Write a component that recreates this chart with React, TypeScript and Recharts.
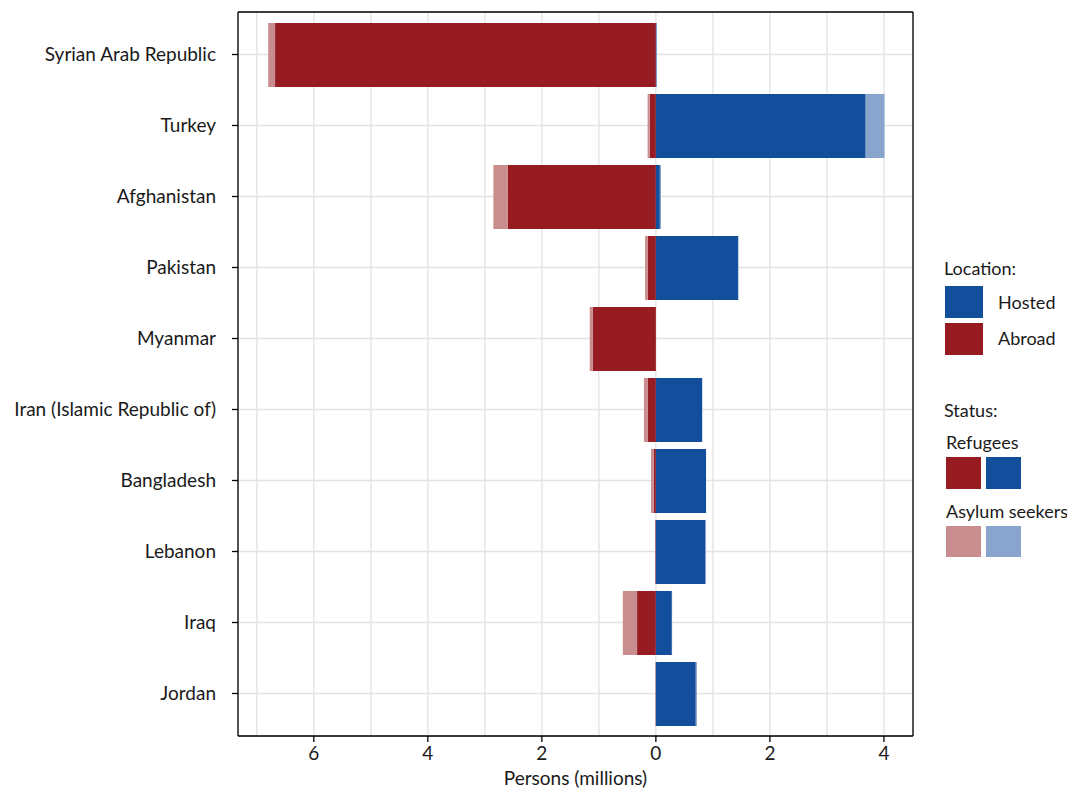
import React from "react";
import {
  BarChart,
  Bar,
  XAxis,
  YAxis,
  CartesianGrid,
} from "recharts";

const countries = [
  "Syrian Arab Republic",
  "Turkey",
  "Afghanistan",
  "Pakistan",
  "Myanmar",
  "Iran (Islamic Republic of)",
  "Bangladesh",
  "Lebanon",
  "Iraq",
  "Jordan",
];
const hostedRefugees = [0.012, 3.68, 0.07, 1.44, 0, 0.81, 0.88, 0.87, 0.28, 0.7];
const hostedAsylum = [0.005, 0.33, 0.02, 0.01, 0, 0.005, 0.0, 0.01, 0.005, 0.02];
const abroadRefugees = [6.68, 0.11, 2.6, 0.14, 1.11, 0.14, 0.035, 0.01, 0.33, 0.005];
const abroadAsylum = [0.12, 0.035, 0.25, 0.05, 0.05, 0.07, 0.05, 0.002, 0.25, 0.002];
const xTicks = [-7, -6, -5, -4, -3, -2, -1, 0, 1, 2, 3, 4];
const labelledTicks = [-6, -4, -2, 0, 2, 4];

const COL_AB_REF = "#961c21";
const COL_AB_ASY = "#c98c8f";
const COL_HO_REF = "#134e9c";
const COL_HO_ASY = "#89a5cd";
const FONT = "Lato, 'Open Sans', sans-serif";
const TEXT = "#1a1a1a";
const FS = 19;
const LEG_FS = 18;

const data = countries.map((c, i) => ({
  country: c,
  hostedRefugees: hostedRefugees[i],
  hostedAsylum: hostedAsylum[i],
  abroadRefugees: -abroadRefugees[i],
  abroadAsylum: -abroadAsylum[i],
}));

const TICK_SIZE = 6;
const TICK_MARGIN = 4;

const XTick = (props: any) => {
  const { x, y, payload } = props;
  const v = payload.value;
  if (!labelledTicks.includes(v)) return null;
  const y0 = y - TICK_MARGIN - TICK_SIZE;
  return (
    <g>
      <line x1={x} x2={x} y1={y0} y2={y0 + TICK_SIZE} stroke="#000" strokeWidth={1.3} />
      <text
        x={x}
        y={y}
        dy="0.75em"
        textAnchor="middle"
        fontFamily={FONT}
        fontSize={FS}
        fill={TEXT}
      >
        {Math.abs(v)}
      </text>
    </g>
  );
};

const Swatch = ({ left, top, w, h, color }: any) => (
  <div style={{ position: "absolute", left, top, width: w, height: h, background: color }} />
);

const Label = ({ left, top, children }: any) => (
  <div
    style={{
      position: "absolute",
      left,
      top,
      fontFamily: FONT,
      fontSize: LEG_FS,
      color: TEXT,
      lineHeight: "20px",
      whiteSpace: "nowrap",
    }}
  >
    {children}
  </div>
);

export default function App() {
  return (
    <div style={{ position: "relative", width: 1067, height: 781 }}>
      <BarChart
        width={1067}
        height={781}
        data={data}
        layout="vertical"
        stackOffset="sign"
        margin={{ top: 3, right: 161, bottom: 3, left: 0 }}
        barSize={64}
      >
        <CartesianGrid stroke="#e2e2e2" strokeWidth={1.3} />
        <XAxis
          type="number"
          domain={[-7.33, 4.51]}
          ticks={xTicks}
          interval={0}
          allowDataOverflow
          height={50}
          tickSize={TICK_SIZE}
          tickMargin={TICK_MARGIN}
          tickLine={false}
          tick={<XTick />}
          axisLine={{ stroke: "#000", strokeWidth: 1.3 }}
          label={{
            value: "Persons (millions)",
            position: "insideBottom",
            offset: 1,
            style: { fontFamily: FONT, fontSize: FS, fill: TEXT },
          }}
        />
        <XAxis
          xAxisId="top"
          orientation="top"
          type="number"
          domain={[0, 1]}
          height={1}
          tick={false}
          tickLine={false}
          axisLine={{ stroke: "#000", strokeWidth: 1.3 }}
        />
        <YAxis
          type="category"
          dataKey="country"
          width={230}
          padding={{ top: 7, bottom: 7 }}
          tickSize={6}
          tickMargin={16}
          interval={0}
          tickLine={{ stroke: "#000", strokeWidth: 1.3 }}
          axisLine={{ stroke: "#000", strokeWidth: 1.3 }}
          tick={{ fontFamily: FONT, fontSize: FS, fill: TEXT }}
        />
        <YAxis
          yAxisId="right"
          orientation="right"
          type="number"
          domain={[0, 1]}
          width={1}
          tick={false}
          tickLine={false}
          axisLine={{ stroke: "#000", strokeWidth: 1.3 }}
        />
        <Bar dataKey="abroadRefugees" stackId="a" fill={COL_AB_REF} isAnimationActive={false} />
        <Bar dataKey="abroadAsylum" stackId="a" fill={COL_AB_ASY} isAnimationActive={false} />
        <Bar dataKey="hostedRefugees" stackId="a" fill={COL_HO_REF} isAnimationActive={false} />
        <Bar dataKey="hostedAsylum" stackId="a" fill={COL_HO_ASY} isAnimationActive={false} />
      </BarChart>

      <Label left={936} top={250}>Location:</Label>
      <Swatch left={937} top={278} w={38} h={32} color={COL_HO_REF} />
      <Label left={990} top={284}>Hosted</Label>
      <Swatch left={937} top={315} w={38} h={32} color={COL_AB_REF} />
      <Label left={990} top={320}>Abroad</Label>

      <Label left={936} top={392}>Status:</Label>
      <Label left={938} top={424}>Refugees</Label>
      <Swatch left={938} top={449} w={35} h={32} color={COL_AB_REF} />
      <Swatch left={978} top={449} w={35} h={32} color={COL_HO_REF} />
      <Label left={938} top={493}>Asylum seekers</Label>
      <Swatch left={938} top={518} w={35} h={31} color={COL_AB_ASY} />
      <Swatch left={978} top={518} w={35} h={31} color={COL_HO_ASY} />
    </div>
  );
}
